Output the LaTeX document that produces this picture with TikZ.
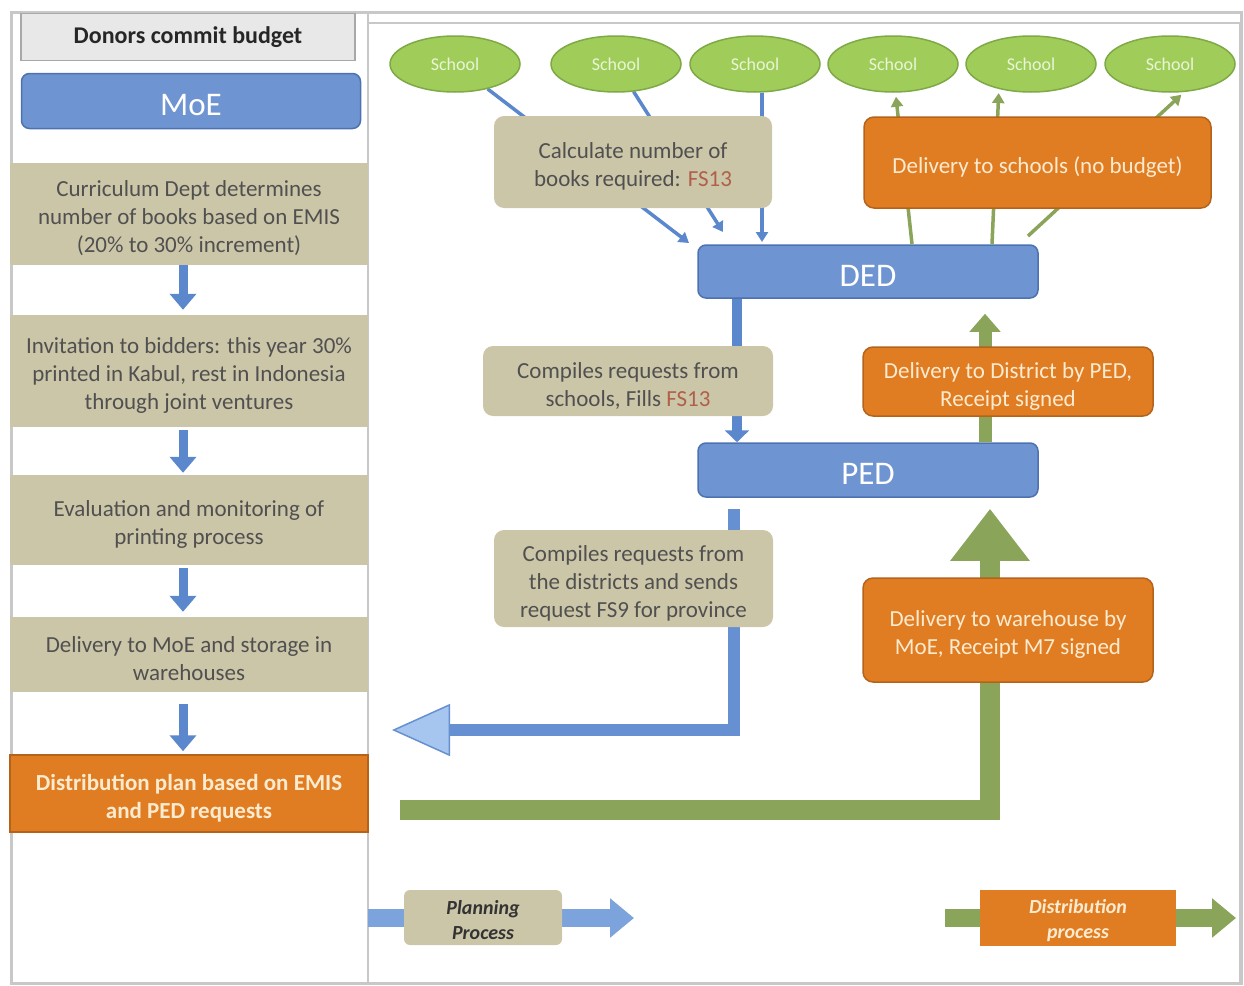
\documentclass[tikz,border=0pt]{standalone}
\usepackage{fontspec}
\setmainfont{Carlito}
\usetikzlibrary{arrows.meta,shapes.geometric}
\definecolor{khaki}{HTML}{CCC6A8}
\definecolor{khtext}{HTML}{505050}
\definecolor{orng}{HTML}{E07D23}
\definecolor{orngdk}{HTML}{B5631B}
\definecolor{cream}{HTML}{FDEBD0}
\definecolor{bbox}{HTML}{6E94D2}
\definecolor{bboxdk}{HTML}{4E72B0}
\definecolor{schg}{HTML}{A0CD5A}
\definecolor{schgdk}{HTML}{7FA846}
\definecolor{schtext}{HTML}{E9F5D6}
\definecolor{agreen}{HTML}{8AA55A}
\definecolor{ablue}{HTML}{5B87CC}
\definecolor{lblue}{HTML}{A6C6EF}
\definecolor{fsred}{HTML}{B0604A}
\definecolor{frame}{HTML}{C8C8C8}
\definecolor{donorfill}{HTML}{E8E8E8}
\definecolor{donordraw}{HTML}{A8A8A8}
\newcommand\firstlift{\rule{0pt}{25pt}}
\pgfdeclarelayer{background}
\pgfsetlayers{background,main}
\begin{document}
\begin{tikzpicture}[x=1pt,y=-1pt,
 txt/.style={font=\fontsize{23}{28}\selectfont},
 leftbox/.style={txt, fill=khaki, text=khtext, align=center, inner sep=0pt, minimum width=358},
 rbox/.style={txt, fill=khaki, text=khtext, align=center, inner sep=0pt, rounded corners=10},
 obox/.style={txt, fill=orng, draw=orngdk, line width=1.5, text=cream, align=center, inner sep=0pt, rounded corners=10},
 bluebox/.style={fill=bbox, draw=bboxdk, line width=1.5, text=white, rounded corners=8, inner sep=0pt, font=\fontsize{33}{36}\selectfont, execute at begin node={\rule{0pt}{29pt}}},
 school/.style={ellipse, fill=schg, draw=schgdk, line width=1.5, text=schtext, inner sep=0pt, minimum width=130, minimum height=56, font=\fontsize{18}{20}\selectfont},
 downarr/.style={ablue, line width=9, -{Triangle[length=16pt,width=26pt]}},
 thinblue/.style={ablue, line width=3.5, -{Triangle[length=10pt,width=12pt]}},
 thingreen/.style={agreen, line width=3.5, -{Triangle[length=10pt,width=12pt]}, shorten >=4pt},
]
\useasboundingbox (0,0) rectangle (1244,985);

% ---------- left column ----------
\node[fill=donorfill, draw=donordraw, line width=1.2, minimum width=334, minimum height=47, inner sep=0pt,
      font=\bfseries\fontsize{24}{28}\selectfont, text=black!85] (donors) at (188,37) {Donors commit budget};
\node[bluebox, minimum width=339, minimum height=55] (moe) at (191,101) {MoE};
\node[leftbox, minimum height=102] (cur) at (189,214) {\firstlift Curriculum Dept determines\\number of books based on EMIS\\(20\% to 30\% increment)};
\node[leftbox, minimum height=112] (inv) at (189,371) {\firstlift Invitation to bidders: this year 30\%\\printed in Kabul, rest in Indonesia\\through joint ventures};
\node[leftbox, minimum height=90] (eva) at (189,520) {\firstlift Evaluation and monitoring of\\printing process};
\node[leftbox, minimum height=75] (dmoe) at (189,654.5) {\firstlift Delivery to MoE and storage in\\warehouses};
\node[leftbox, fill=orng, text=cream, draw=orngdk, line width=1.5, minimum height=77,
      font=\bfseries\fontsize{23}{28}\selectfont] (plan) at (189,793.5) {\firstlift Distribution plan based on EMIS\\and PED requests};

% ---------- schools ----------
\node[school] (s1) at (455,64) {School};
\node[school] (s2) at (616,64) {School};
\node[school] (s3) at (755,64) {School};
\node[school] (s4) at (893,64) {School};
\node[school] (s5) at (1031,64) {School};
\node[school] (s6) at (1170,64) {School};

% ---------- right boxes ----------
\node[rbox, minimum width=278, minimum height=92] (calc) at (633,162) {\firstlift Calculate number of\\books required: \textcolor{fsred}{FS13}};
\node[bluebox, minimum width=340, minimum height=53] (ded) at (868,271.5) {DED};
\node[obox, minimum width=347, minimum height=91] (dsch) at (1037.5,162.5) {\firstlift Delivery to schools (no budget)};
\node[rbox, minimum width=290, minimum height=70] (comp1) at (628,381) {\firstlift Compiles requests from\\schools, Fills \textcolor{fsred}{FS13}};
\node[bluebox, minimum width=340, minimum height=54] (ped) at (868,470) {PED};
\node[obox, minimum width=290, minimum height=69] (ddist) at (1008,381.5) {\firstlift Delivery to District by PED,\\Receipt signed};
\node[rbox, minimum width=279, minimum height=97] (comp2) at (633.5,578.5) {\firstlift Compiles requests from\\the districts and sends\\request FS9 for province};
\node[obox, minimum width=290, minimum height=104] (dware) at (1008,630) {\firstlift Delivery to warehouse by\\MoE, Receipt M7 signed};

% ---------- legend ----------
\node[rbox, rounded corners=6, minimum width=158, minimum height=55,
      font=\bfseries\itshape\fontsize{20}{25}\selectfont, text=black!80] (lplan) at (483,917.5) {\rule{0pt}{20pt}Planning\\Process};
\node[obox, rounded corners=0, draw=none, minimum width=196, minimum height=56,
      font=\bfseries\itshape\fontsize{20}{25}\selectfont] (ldist) at (1078,918) {\rule{0pt}{20pt}Distribution\\process};

% ---------- coordinates ----------
\coordinate (t1) at (689,243);
\coordinate (t2) at (723,232);
\coordinate (t3) at (762,242);
\coordinate (g4) at (912,244);
\coordinate (g5) at (992,244);
\coordinate (g6) at (1028,236);
\coordinate (pb) at (734,509);
\coordinate (lt) at (392,730);
\coordinate (gs) at (400,810);
\coordinate (lb0) at (368,918);
\coordinate (lb1) at (634,918);
\coordinate (lg0) at (945,918);
\coordinate (lg1) at (1236,918);

\begin{pgfonlayer}{background}
  % frames
  \draw[frame, line width=3] (11,12) rectangle (1241,983);
  \draw[frame, line width=2] (368,23) rectangle (1240,983);
  \draw[frame, line width=2] (368,12) -- (368,983);

  % left column arrows
  \draw[downarr] ([xshift=-6]cur.south) -- ([xshift=-6,yshift=5]inv.north);
  \draw[downarr] ([xshift=-6,yshift=-3]inv.south) -- ([xshift=-6,yshift=2]eva.north);
  \draw[downarr] ([xshift=-6,yshift=-3]eva.south) -- ([xshift=-6,yshift=5]dmoe.north);
  \draw[downarr] ([xshift=-6,yshift=-12]dmoe.south) -- ([xshift=-6,yshift=3]plan.north);

  % schools -> DED (requests)
  \draw[thinblue] (s1) -- (t1);
  \draw[thinblue] (s2) -- (t2);
  \draw[thinblue] (s3.south -| t3) -- (t3);

  % DED -> schools (delivery)
  \draw[thingreen] (g4) -- (s4.275);
  \draw[thingreen] (g5) -- (s5.218);
  \draw[thingreen] (g6) -- (s6.297);

  % DED -> PED
  \draw[ablue, line width=10, -{Triangle[length=12pt,width=24pt]}] ([xshift=-131]ded.south) -- ([xshift=-131]ped.north);
  % PED -> DED (delivery)
  \draw[agreen, line width=13, -{Triangle[length=18pt,width=30pt]}] ([xshift=117]ped.north) -- ([xshift=117,yshift=-15]ded.south);
  % PED -> MoE (request)
  \draw[ablue!85!lblue, line width=12, -{Triangle[length=58pt,width=52pt,fill=lblue,line width=1.5pt]}] (pb) |- (lt);
  % MoE -> PED (delivery)
  \draw[agreen, line width=20, -{Triangle[length=52pt,width=76pt]}] (gs) -| ([xshift=122,yshift=-11]ped.south);

  % legend arrows
  \draw[lblue!45!ablue, line width=18, -{Triangle[length=24pt,width=38pt]}] (lb0) -- (lb1);
  \draw[agreen, line width=18, -{Triangle[length=24pt,width=38pt]}] (lg0) -- (lg1);
\end{pgfonlayer}
\end{tikzpicture}
\end{document}
